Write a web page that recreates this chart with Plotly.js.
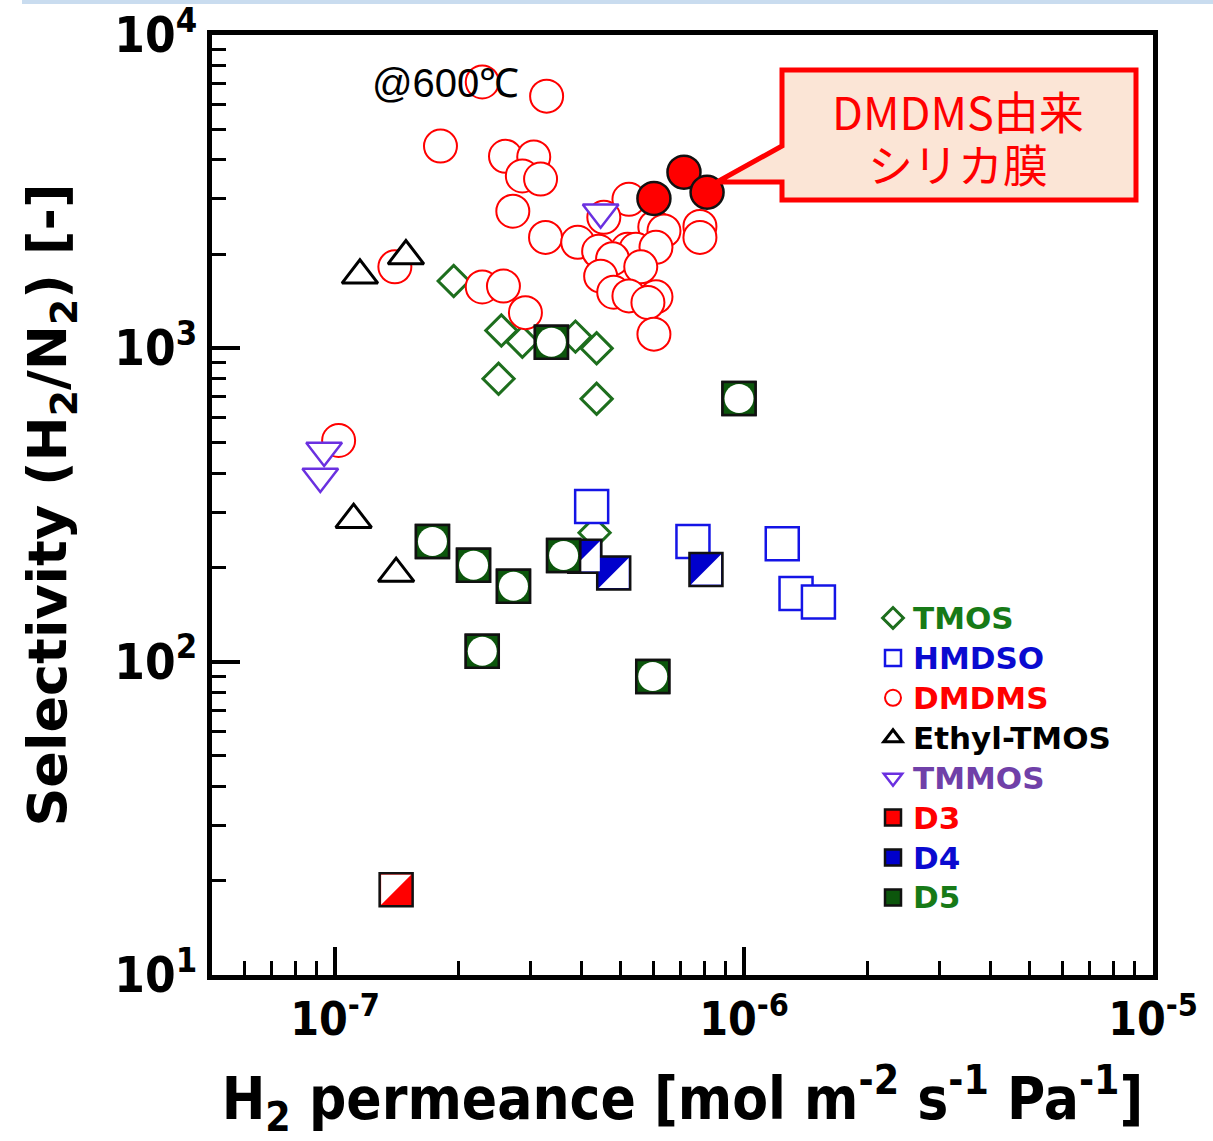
<!DOCTYPE html>
<html><head><meta charset="utf-8">
<script src="https://cdn.plot.ly/plotly-3.0.1.min.js"></script>
<style>html,body{margin:0;padding:0;background:#fff}</style>
</head><body>
<div id="chart" style="width:1213px;height:1141px"></div>
<script>
// ---- data ----
const TMOS_X = [1.95e-7, 2.55e-7, 2.87e-7, 3.87e-7, 4.36e-7, 2.51e-7, 4.36e-7, 4.31e-7];
const TMOS_Y = [1640, 1140, 1050, 1090, 1000, 800, 690, 258];

const HMDSO_X = [4.24e-7, 7.50e-7, 1.24e-6, 1.34e-6, 1.52e-6];
const HMDSO_Y = [313, 242, 238, 165, 155];

const DMDMS_X = [2.29e-7, 3.29e-7, 1.81e-7, 2.61e-7, 3.06e-7, 2.87e-7, 3.18e-7, 2.72e-7, 3.27e-7, 3.92e-7,
                 1.40e-7, 2.29e-7, 2.58e-7, 2.92e-7, 1.02e-7, 5.23e-7, 4.54e-7, 4.41e-7, 6.05e-7, 6.37e-7,
                 7.80e-7, 7.80e-7, 5.19e-7, 5.44e-7, 6.09e-7, 4.77e-7, 4.46e-7, 5.59e-7, 4.80e-7, 5.23e-7,
                 6.09e-7, 5.82e-7, 6.02e-7];
const DMDMS_Y = [7080, 6380, 4420, 4100, 4080, 3550, 3470, 2740, 2260, 2180,
                 1820, 1570, 1580, 1300, 508, 2990, 2620, 2040, 2440, 2370,
                 2450, 2260, 2070, 2070, 2100, 1930, 1700, 1820, 1510, 1470,
                 1460, 1400, 1110];

const DMDMS_FILM_X = [6.02e-7, 7.13e-7, 8.12e-7];
const DMDMS_FILM_Y = [3010, 3650, 3150];

const ETHYL_X = [1.15e-7, 1.49e-7, 1.11e-7, 1.41e-7];
const ETHYL_Y = [1710, 1970, 284, 191];

const TMMOS_X = [9.4e-8, 9.2e-8, 4.46e-7];
const TMMOS_Y = [472, 390, 2720];

const D3_X = [1.41e-7];
const D3_Y = [18.7];

const D4_X = [4.08e-7, 4.80e-7, 8.07e-7];
const D4_Y = [217, 192, 197];

const D5_X = [1.73e-7, 2.18e-7, 2.73e-7, 3.62e-7, 2.29e-7, 5.98e-7, 3.38e-7, 9.72e-7];
const D5_Y = [242, 203, 174, 218, 108, 89.6, 1045, 692];

const X_TICK_VALS = [1e-7, 1e-6, 1e-5];
const X_TICK_TEXT = ['10<sup>-7</sup>', '10<sup>-6</sup>', '10<sup>-5</sup>'];
const Y_TICK_VALS = [10, 100, 1000, 10000];
const Y_TICK_TEXT = ['10<sup>1</sup>', '10<sup>2</sup>', '10<sup>3</sup>', '10<sup>4</sup>'];

// ---- styles ----
const GREEN = '#1d6e1d', GREEN_T = '#177a17', BLUE = '#1414e6', BLUE_T = '#0a0ad0',
      RED = '#ff0000', PURPLE = '#6a30e0', PURPLE_T = '#7040a8', D5G = '#0c560c';
const SYM = 33;

function lbl(t, c) { return '<span style="color:' + c + ';font-size:31px">' + t + '</span>'; }

const traces = [
  {x: TMOS_X, y: TMOS_Y, name: lbl('TMOS', GREEN_T), mode: 'markers', type: 'scatter',
   marker: {symbol: 'diamond', size: 24, color: 'white', line: {color: GREEN, width: 3}}},
  {x: HMDSO_X, y: HMDSO_Y, name: lbl('HMDSO', BLUE_T), mode: 'markers', type: 'scatter',
   marker: {symbol: 'square', size: SYM, color: 'white', line: {color: BLUE, width: 2.5}}},
  {x: DMDMS_X, y: DMDMS_Y, name: lbl('DMDMS', RED), mode: 'markers', type: 'scatter',
   marker: {symbol: 'circle', size: 33, color: 'white', line: {color: RED, width: 2}}},
  {x: DMDMS_FILM_X, y: DMDMS_FILM_Y, name: 'DMDMS (film)', mode: 'markers', type: 'scatter', showlegend: false,
   marker: {symbol: 'circle', size: 33, color: RED, line: {color: '#111', width: 2.5}}},
  {x: ETHYL_X, y: ETHYL_Y, name: lbl('Ethyl-TMOS', '#000'), mode: 'markers', type: 'scatter',
   marker: {symbol: 'triangle-up', size: 31, color: 'white', line: {color: '#000', width: 3}}},
  {x: TMMOS_X, y: TMMOS_Y, name: lbl('TMMOS', PURPLE_T), mode: 'markers', type: 'scatter',
   marker: {symbol: 'triangle-down', size: 31, color: 'white', line: {color: PURPLE, width: 2.5}}},
  {x: D3_X, y: D3_Y, name: lbl('D3', RED), mode: 'markers', type: 'scatter',
   marker: {symbol: 'square', size: SYM, color: RED, line: {color: '#111', width: 2.5}}},
  {x: D4_X, y: D4_Y, name: lbl('D4', BLUE_T), mode: 'markers', type: 'scatter',
   marker: {symbol: 'square', size: SYM, color: '#0000cc', line: {color: '#111', width: 2.5}}},
  {x: D5_X, y: D5_Y, name: lbl('D5', GREEN_T), mode: 'markers', type: 'scatter',
   marker: {symbol: 'square', size: SYM, color: D5G, line: {color: '#111', width: 2.5}}}
];

// ---- shapes: half-filled squares and D5 inner circle (pixel-sized, anchored at data points) ----
const shapes = [];
const h = 15;
function pix(xa, ya, extra) {
  return Object.assign({type: 'path', xref: 'x', yref: 'y', xsizemode: 'pixel', ysizemode: 'pixel',
    xanchor: xa, yanchor: ya, layer: 'above'}, extra);
}
function circlePath(r) {
  const k = (0.5523 * r).toFixed(2);
  return `M${r},0 C${r},${k} ${k},${r} 0,${r} C-${k},${r} -${r},${k} -${r},0 ` +
         `C-${r},-${k} -${k},-${r} 0,-${r} C${k},-${r} ${r},-${k} ${r},0 Z`;
}
D3_X.forEach((x, i) => shapes.push(pix(x, D3_Y[i], {
  path: `M${-h},${h} L${h},${h} L${-h},${-h} Z`, fillcolor: 'white', line: {width: 0}})));
D4_X.forEach((x, i) => shapes.push(pix(x, D4_Y[i], {
  path: `M${h},${h} L${h},${-h} L${-h},${-h} Z`, fillcolor: 'white', line: {width: 0}})));
D5_X.forEach((x, i) => {
  const s = 16.5;
  shapes.push(pix(x, D5_Y[i], {path: `M${-s},${-s} L${s},${-s} L${s},${s} L${-s},${s} Z`,
    fillcolor: D5G, line: {color: '#111', width: 2.5}}));
  shapes.push(pix(x, D5_Y[i], {path: circlePath(14.5), fillcolor: 'white', line: {width: 0}}));
});

// ---- callout box (paper coordinates from pixel layout) ----
const PL = 212, PR = 1153, PT = 35, PB = 975;
const px = v => (v - PL) / (PR - PL);
const py = v => (PB - v) / (PB - PT);
const callout = [[782, 70], [1136, 70], [1136, 200], [782, 200], [782, 182], [717, 182], [782, 146]];
shapes.push({type: 'path', xref: 'paper', yref: 'paper', layer: 'above',
  path: 'M' + callout.map(p => px(p[0]).toFixed(5) + ',' + py(p[1]).toFixed(5)).join(' L') + ' Z',
  fillcolor: '#fbe5d6', line: {color: RED, width: 5}});
// light blue rule at the very top
shapes.push({type: 'line', xref: 'paper', yref: 'paper', x0: px(22), x1: px(1213), y0: py(2), y1: py(2),
  line: {color: '#c9dcef', width: 4}});

// minor ticks 2..9 per decade
function minorVals(e0, e1, lo, hi) {
  const out = [];
  for (let e = e0; e <= e1; e++) for (let d = 2; d <= 9; d++) {
    const v = d * Math.pow(10, e);
    if (v > lo * 1.0001 && v < hi * 0.9999) out.push(v);
  }
  return out;
}

const FAM = 'Liberation Sans Narrow, DejaVu Sans Condensed, sans-serif';

const layout = {
  width: 1213, height: 1141,
  margin: {l: PL, r: 1213 - PR, t: PT, b: 1141 - PB},
  paper_bgcolor: 'white', plot_bgcolor: 'white',
  showlegend: true,
  legend: {x: px(873), y: py(593), xanchor: 'left', yanchor: 'top', bgcolor: 'rgba(0,0,0,0)',
    font: {family: 'DejaVu Sans', size: 28.4, weight: 700, color: '#000'}, itemsizing: 'trace', tracegroupgap: 0},
  xaxis: {type: 'log', range: [Math.log10(5e-8), -5], automargin: false,
    showgrid: false, zeroline: false, showline: true, linecolor: '#000', linewidth: 5, mirror: true,
    ticks: 'inside', ticklen: 28, tickwidth: 4, tickcolor: '#000', ticklabeloverflow: 'allow',
    tickmode: 'array', tickvals: X_TICK_VALS, ticktext: X_TICK_TEXT,
    tickfont: {family: FAM, size: 46, color: '#000', weight: 700},
    minor: {tickmode: 'array', tickvals: minorVals(-8, -6, 5e-8, 1e-5), ticks: 'inside', ticklen: 14, tickwidth: 3, tickcolor: '#000', showgrid: false},
    title: {text: 'H<sub>2</sub> permeance [mol m<sup>-2</sup> s<sup>-1</sup> Pa<sup>-1</sup>]', standoff: 44,
      font: {family: 'DejaVu Sans Condensed, DejaVu Sans', size: 58, weight: 700, color: '#000'}}},
  yaxis: {type: 'log', range: [1, 4], automargin: false,
    showgrid: false, zeroline: false, showline: true, linecolor: '#000', linewidth: 5, mirror: true,
    ticks: 'inside', ticklen: 28, tickwidth: 4, tickcolor: '#000', ticklabeloverflow: 'allow',
    tickmode: 'array', tickvals: Y_TICK_VALS, ticktext: Y_TICK_TEXT,
    tickfont: {family: FAM, size: 49, color: '#000', weight: 700},
    minor: {tickmode: 'array', tickvals: minorVals(1, 3, 10, 1e4), ticks: 'inside', ticklen: 14, tickwidth: 3, tickcolor: '#000', showgrid: false},
    title: {text: 'Selectivity (H<sub>2</sub>/N<sub>2</sub>) [-]', standoff: 32,
      font: {family: 'DejaVu Sans', size: 54, weight: 700, color: '#000'}}},
  shapes: shapes,
  annotations: [
    {xref: 'paper', yref: 'paper', x: px(445), y: py(83), xanchor: 'center', yanchor: 'middle',
     text: '@600℃', showarrow: false,
     font: {family: 'Liberation Sans, Arial, sans-serif', size: 40, color: '#000'}},
    {xref: 'paper', yref: 'paper', x: px(958), y: py(137), xanchor: 'center', yanchor: 'middle',
     text: '<span style="font-size:45px">DMDMS由来</span><br><span style="font-size:45px">シリカ膜</span>', showarrow: false,
     font: {family: 'Noto Sans CJK JP', size: 41, color: RED}}
  ]
};

Plotly.newPlot('chart', traces, layout, {displayModeBar: false, staticPlot: true});
</script>
</body></html>
